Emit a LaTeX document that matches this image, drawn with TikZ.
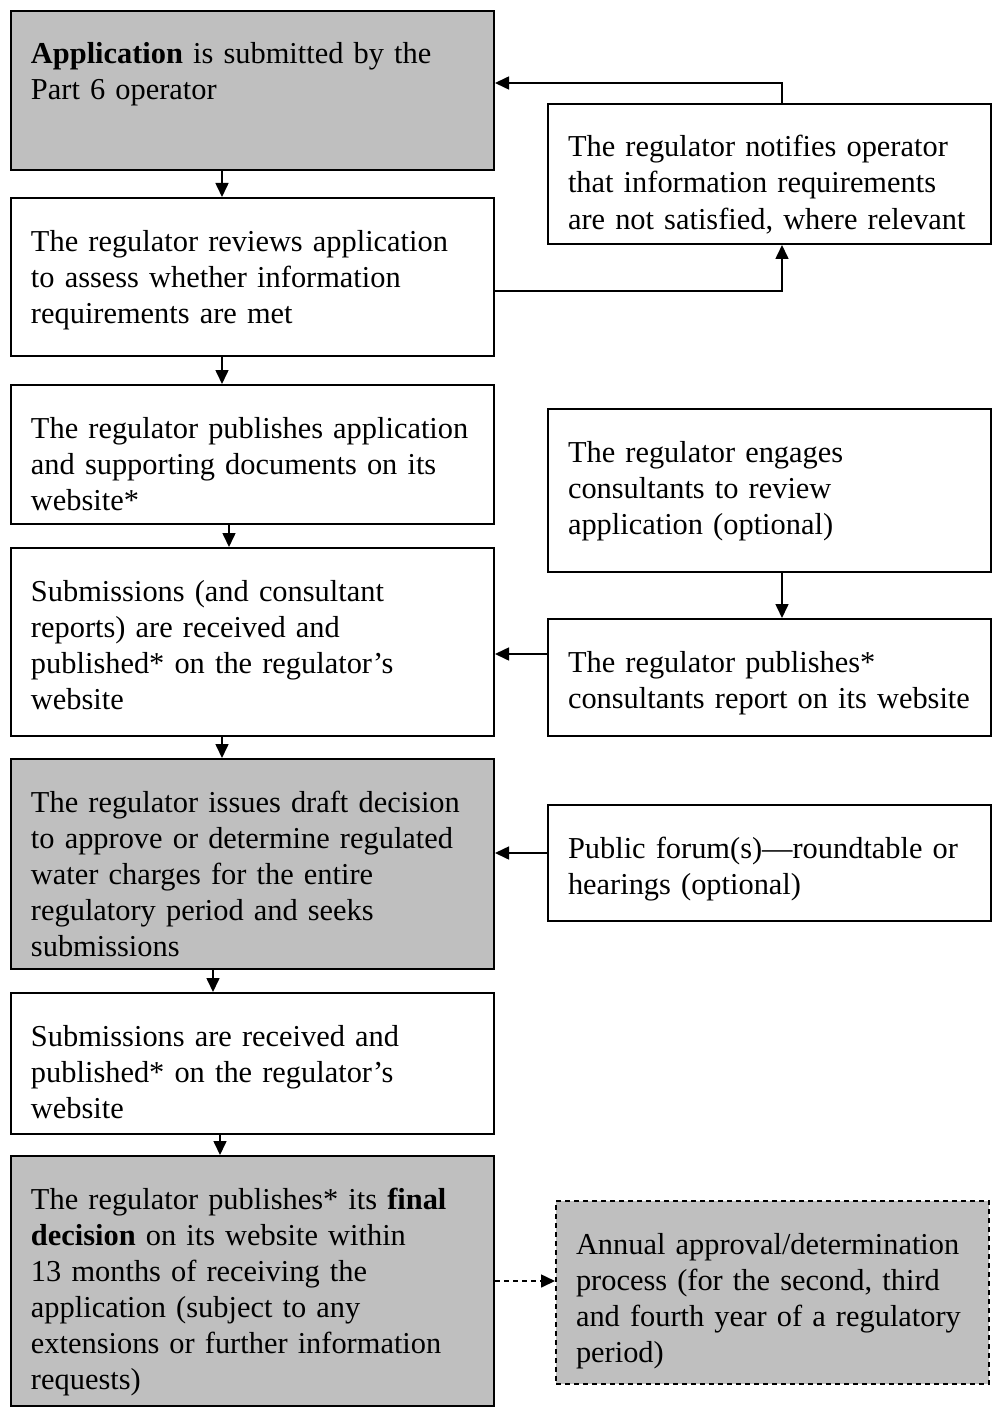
\documentclass[tikz,border=0pt]{standalone}
\usepackage{fontspec}
\setmainfont{Liberation Serif}
\usepackage{tikz}
\usetikzlibrary{arrows.meta}

\begin{document}
\begin{tikzpicture}[x=0.5pt, y=-0.5pt,
	stage/.style={rectangle, draw=black, line width=1pt, anchor=north west, align=left, inner xsep=10pt, inner ysep=0pt, text height=26.5pt, font=\fontsize{15.2}{18}\selectfont, execute at begin node={\hyphenpenalty=10000\rightskip=-12pt plus 1fil\relax}},
	mainstage/.style={stage, text width=221.5pt},
	sidestage/.style={stage, text width=201.5pt},
	shaded/.style={fill=black!25}]

\useasboundingbox (0,0) rectangle (991,1407);

% main column
\node at (10,10) [mainstage, shaded, text depth=53pt] (apply) {\textbf{Application} is submitted by the\\Part 6 operator};
\node at (10,197) [mainstage, text depth=52.5pt] (review) {The regulator reviews application\\to assess whether information\\requirements are met};
\node at (10,384) [mainstage, text depth=43pt] (publish) {The regulator publishes application\\and supporting documents on its\\website*};
\node at (10,547) [mainstage, text depth=67.5pt] (submit) {Submissions (and consultant\\reports) are received and\\published* on the regulator’s\\website};
\node at (10,758) [mainstage, shaded, text depth=78.5pt] (draft) {The regulator issues draft decision\\to approve or determine regulated\\water charges for the entire\\regulatory period and seeks\\submissions};
\node at (10,992) [mainstage, text depth=44pt] (resubmit) {Submissions are received and\\published* on the regulator’s\\website};
\node at (10,1155) [mainstage, shaded, text depth=98.5pt] (final) {The regulator publishes* its \textbf{final}\\\textbf{decision} on its website within\\13 months of receiving the\\application (subject to any\\extensions or further information\\requests)};

% side column
\node at (547,103) [sidestage, text depth=43.5pt] (notify) {The regulator notifies operator\\that information requirements\\are not satisfied, where relevant};
\node at (547,408) [sidestage, text depth=55pt] (engage) {The regulator engages\\consultants to review\\application (optional)};
\node at (547,618) [sidestage, text depth=32pt] (consult) {The regulator publishes*\\consultants report on its website};
\node at (547,804) [sidestage, text depth=31.5pt] (forum) {Public forum(s)---roundtable or\\hearings (optional)};
\node at (555,1200) [stage, shaded, text width=196.5pt, dash pattern=on 2.5pt off 2pt, text depth=65pt] (annual) {Annual approval/determination\\process (for the second, third\\and fourth year of a regulatory\\period)};

\coordinate (consultout) at ([yshift=11.75pt]consult.west);
\coordinate (forumout) at ([yshift=5pt]forum.west);

\begin{scope}[>={Triangle[length=7pt, width=6.5pt]}, line width=0.8pt]
	\draw [->] ([xshift=-15.25pt]apply.south) -- ([xshift=-15.25pt]review.north);
	\draw [->] ([xshift=-15.25pt]review.south) -- ([xshift=-15.25pt]publish.north);
	\draw [->] ([xshift=-11.75pt]publish.south) -- ([xshift=-11.75pt]submit.north);
	\draw [->] ([xshift=-15.25pt]submit.south) -- ([xshift=-15.25pt]draft.north);
	\draw [->] ([xshift=-19.75pt]draft.south) -- ([xshift=-19.75pt]resubmit.north);
	\draw [->] ([xshift=-16.25pt]resubmit.south) -- ([xshift=-16.25pt]final.north);
	\draw [->] ([yshift=-7pt]review.east) -| ([xshift=6.25pt]notify.south);
	\draw [->] ([xshift=6.25pt]notify.north) |- ([yshift=3.75pt]apply.east);
	\draw [->] ([xshift=6.25pt]engage.south) -- ([xshift=6.25pt]consult.north);
	\draw [->] (consultout) -- (consultout -| submit.east);
	\draw [->] (forumout) -- (forumout -| draft.east);
	\draw [->, dash pattern=on 2.5pt off 2pt] (final.east) -- (final.east -| annual.west);
\end{scope}

\end{tikzpicture}
\end{document}
